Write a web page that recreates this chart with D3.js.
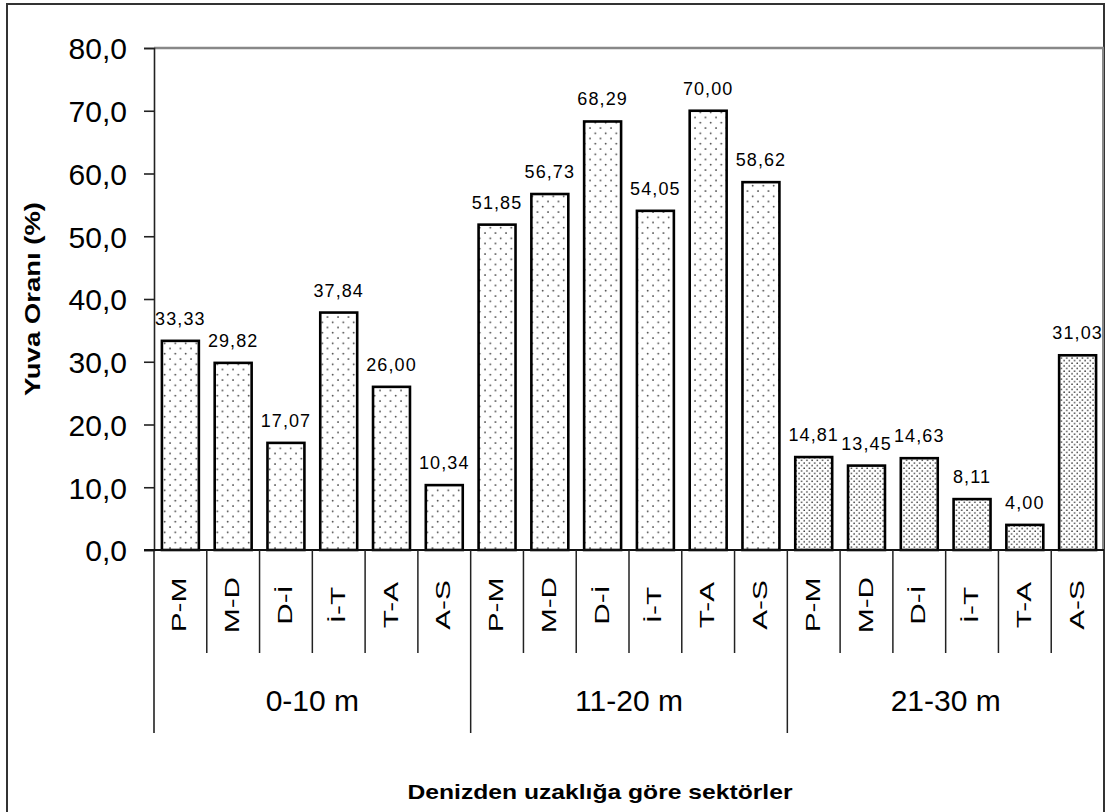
<!DOCTYPE html>
<html>
<head>
<meta charset="utf-8">
<script src="https://cdn.jsdelivr.net/npm/d3@7"></script>
<style>
  html, body { margin: 0; padding: 0; background: #fff; }
  svg { display: block; }
  text { font-family: "Liberation Sans", Arial, sans-serif; fill: #000; }
</style>
</head>
<body>
<svg id="chart" width="1107" height="812"></svg>
<script>
// Distance bands from the sea and the sectors inside each band
const groups = ["0-10 m", "11-20 m", "21-30 m"];
const sectors = ["P-M", "M-D", "D-İ", "İ-T", "T-A", "A-S"];

// Nest ratio (%) per sector, one array per distance band
const values0to10 = [33.33, 29.82, 17.07, 37.84, 26.00, 10.34];
const values11to20 = [51.85, 56.73, 68.29, 54.05, 70.00, 58.62];
const values21to30 = [14.81, 13.45, 14.63, 8.11, 4.00, 31.03];

const yTicks = [0, 10, 20, 30, 40, 50, 60, 70, 80];
const yTitle = "Yuva Oranı (%)";
const xTitle = "Denizden uzaklığa göre sektörler";

const seriesByGroup = [values0to10, values11to20, values21to30];

const rows = [];
groups.forEach((g, gi) => {
  sectors.forEach((s, si) => {
    rows.push({ group: g, gi, sector: s, value: seriesByGroup[gi][si] });
  });
});

const tr = d3.formatLocale({ decimal: ",", thousands: ".", grouping: [3], currency: ["", ""] });
const fmtTick = tr.format(".1f");
const fmtVal = tr.format(".2f");

const svg = d3.select("#chart");

// Dot fills: a sparse one for the first two bands, a denser one for the last
const defs = svg.append("defs");
const sparse = defs.append("pattern")
  .attr("id", "dotsSparse").attr("patternUnits", "userSpaceOnUse")
  .attr("width", 10.5).attr("height", 10.5);
sparse.append("rect").attr("width", 10.5).attr("height", 10.5).attr("fill", "#fff");
sparse.append("circle").attr("cx", 2).attr("cy", 2).attr("r", 0.85).attr("fill", "#222");
sparse.append("circle").attr("cx", 7.25).attr("cy", 7.25).attr("r", 0.85).attr("fill", "#222");

const dense = defs.append("pattern")
  .attr("id", "dotsDense").attr("patternUnits", "userSpaceOnUse")
  .attr("width", 5.25).attr("height", 5.25);
dense.append("rect").attr("width", 5.25).attr("height", 5.25).attr("fill", "#fff");
dense.append("circle").attr("cx", 1).attr("cy", 1).attr("r", 0.8).attr("fill", "#333");
dense.append("circle").attr("cx", 3.625).attr("cy", 3.625).attr("r", 0.8).attr("fill", "#333");

const fillFor = gi => gi === 2 ? "url(#dotsDense)" : "url(#dotsSparse)";

// Chart frame
svg.append("rect")
  .attr("x", 7).attr("y", 4).attr("width", 1097).attr("height", 820)
  .attr("fill", "none").attr("stroke", "#333").attr("stroke-width", 2);

const plot = { left: 154, right: 1104, top: 48, bottom: 550 };

const y = d3.scaleLinear().domain([0, 80]).range([plot.bottom, plot.top]);

const xGroup = d3.scaleBand().domain(groups).range([plot.left, plot.right]).padding(0);
const xSector = d3.scaleBand().domain(sectors).range([0, xGroup.bandwidth()])
  .paddingInner(0.3).paddingOuter(0.15);
const step = xSector.step();
const sectorStart = s => xSector(s) - step * xSector.paddingInner() / 2;

// Plot area top and right edges
svg.append("line")
  .attr("x1", plot.left).attr("x2", plot.right)
  .attr("y1", y(80)).attr("y2", y(80))
  .attr("stroke", "#888").attr("stroke-width", 2.5);
svg.append("line")
  .attr("x1", plot.right - 1).attr("x2", plot.right - 1)
  .attr("y1", y(80)).attr("y2", plot.bottom)
  .attr("stroke", "#888").attr("stroke-width", 2);

// Y axis
const yAxis = d3.axisLeft(y).tickValues(yTicks).tickSize(10).tickPadding(17)
  .tickFormat(d => fmtTick(d));
const gy = svg.append("g").attr("transform", `translate(${plot.left},0)`).call(yAxis);
gy.select(".domain").attr("stroke", "#222").attr("stroke-width", 1.6);
gy.selectAll(".tick line").attr("stroke", "#222").attr("stroke-width", 1.6);
gy.selectAll(".tick text")
  .attr("font-size", 30).attr("font-family", "Liberation Sans, Arial, sans-serif")
  .attr("fill", "#000").attr("dy", "0.36em");

// Y axis continues down through the category area
svg.append("line")
  .attr("x1", plot.left).attr("x2", plot.left)
  .attr("y1", plot.bottom).attr("y2", 733)
  .attr("stroke", "#222").attr("stroke-width", 1.6);

// Bars
const barG = svg.append("g");
barG.selectAll("rect").data(rows).join("rect")
  .attr("x", d => xGroup(d.group) + xSector(d.sector))
  .attr("width", xSector.bandwidth())
  .attr("y", d => y(d.value))
  .attr("height", d => y(0) - y(d.value))
  .attr("fill", d => fillFor(d.gi))
  .attr("stroke", "#000").attr("stroke-width", 2.6);

// Value labels above bars
svg.append("g").selectAll("text").data(rows).join("text")
  .attr("x", d => xGroup(d.group) + xSector(d.sector) + xSector.bandwidth() / 2)
  .attr("y", d => y(d.value) - 16)
  .attr("text-anchor", "middle")
  .attr("font-size", 18).attr("letter-spacing", 1.1)
  .attr("fill", "#222")
  .text(d => fmtVal(d.value));

// X axis baseline
svg.append("line")
  .attr("x1", plot.left - 10).attr("x2", plot.right)
  .attr("y1", plot.bottom).attr("y2", plot.bottom)
  .attr("stroke", "#111").attr("stroke-width", 1.8);

// Sector separators (short) and band separators (long)
const sepG = svg.append("g").attr("stroke", "#222").attr("stroke-width", 1.5);
groups.forEach(g => {
  sectors.forEach((s, si) => {
    if (si === 0) return;
    const xx = xGroup(g) + sectorStart(s);
    sepG.append("line").attr("x1", xx).attr("x2", xx)
      .attr("y1", plot.bottom).attr("y2", 653);
  });
  const xe = xGroup(g) + xGroup.bandwidth();
  if (xe < plot.right - 1) {
    sepG.append("line").attr("x1", xe).attr("x2", xe)
      .attr("y1", plot.bottom).attr("y2", 733);
  }
});

// Sector labels, rotated
svg.append("g").selectAll("text").data(rows).join("text")
  .attr("transform", d => {
    const cx = xGroup(d.group) + xSector(d.sector) + xSector.bandwidth() / 2 + 6;
    return `translate(${cx},605) rotate(-90) scale(1.42,1)`;
  })
  .attr("text-anchor", "middle")
  .attr("font-size", 21)
  .text(d => d.sector);

// Distance band labels
svg.append("g").selectAll("text").data(groups).join("text")
  .attr("x", g => xGroup(g) + xGroup.bandwidth() / 2)
  .attr("y", 711)
  .attr("text-anchor", "middle")
  .attr("font-size", 30)
  .text(g => g);

// Axis titles
svg.append("text")
  .attr("transform", `translate(40,${(plot.top + plot.bottom) / 2}) rotate(-90)`)
  .attr("text-anchor", "middle")
  .attr("font-size", 22).attr("font-weight", "bold")
  .attr("textLength", 194).attr("lengthAdjust", "spacingAndGlyphs")
  .text(yTitle);

svg.append("text")
  .attr("x", 600).attr("y", 799)
  .attr("text-anchor", "middle")
  .attr("font-size", 21).attr("font-weight", "bold")
  .attr("textLength", 385).attr("lengthAdjust", "spacingAndGlyphs")
  .text(xTitle);
</script>
</body>
</html>
